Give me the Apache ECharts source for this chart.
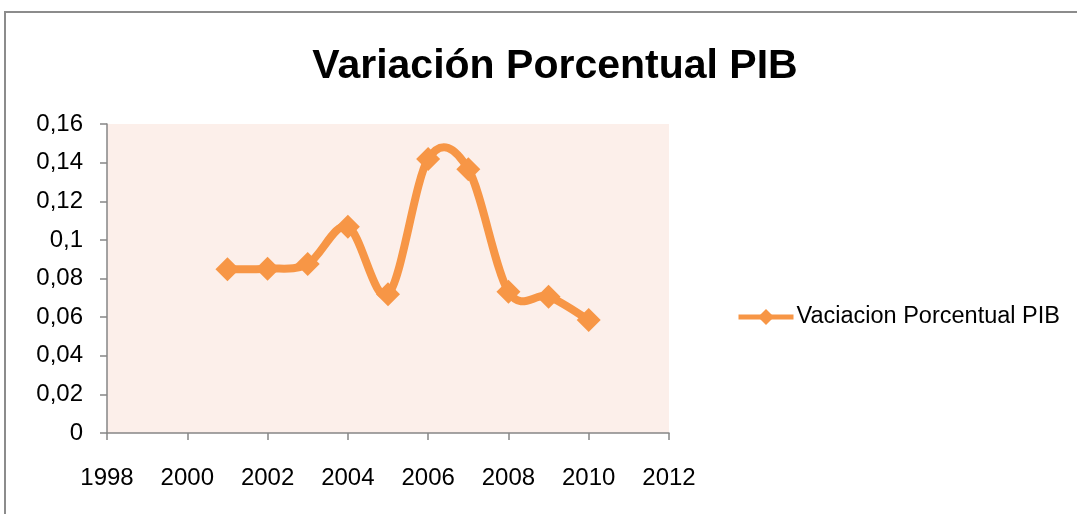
<!DOCTYPE html>
<html>
<head>
<meta charset="utf-8">
<script src="https://cdn.jsdelivr.net/npm/echarts@6/dist/echarts.min.js"></script>
<style>
  html, body { margin: 0; padding: 0; background: #fff; }
  #chart { width: 1077px; height: 514px; }
</style>
</head>
<body>
<div id="chart"></div>
<script>
// anos y variacion porcentual del PIB
const years = [2001, 2002, 2003, 2004, 2005, 2006, 2007, 2008, 2009, 2010]
const pibVariation = [0.0848, 0.0851, 0.0875, 0.1068, 0.0718, 0.1419, 0.1366, 0.0732, 0.0706, 0.0585]
const seriesName = 'Vaciacion Porcentual PIB'
const chartTitle = 'Variación Porcentual PIB'

const font = 'Liberation Sans'
const axisColor = '#868686'
const orange = '#f79646'

const points = years.map((y, i) => [y, pibVariation[i]])

// curva suave tipo Excel (Catmull-Rom -> bezier), segmento i .. i+1
function renderSegment (params, api) {
  const i = params.dataIndex
  if (i >= points.length - 1) return null
  const c = j => api.coord(points[Math.max(0, Math.min(points.length - 1, j))])
  const p0 = c(i - 1)
  const p1 = c(i)
  const p2 = c(i + 1)
  const p3 = c(i + 2)
  return {
    type: 'bezierCurve',
    shape: {
      x1: p1[0],
      y1: p1[1],
      cpx1: p1[0] + (p2[0] - p0[0]) / 6,
      cpy1: p1[1] + (p2[1] - p0[1]) / 6,
      cpx2: p2[0] - (p3[0] - p1[0]) / 6,
      cpy2: p2[1] - (p3[1] - p1[1]) / 6,
      x2: p2[0],
      y2: p2[1]
    },
    style: {
      fill: null,
      stroke: orange,
      lineWidth: 8,
      lineCap: 'round'
    }
  }
}

const chart = echarts.init(document.getElementById('chart'))
chart.setOption({
  backgroundColor: '#fff',
  animation: false,
  textStyle: {
    fontFamily: font
  },
  title: {
    text: chartTitle,
    left: 550,
    textAlign: 'center',
    top: 41,
    textStyle: {
      fontFamily: font,
      fontSize: 41,
      fontWeight: 'bold',
      color: '#000'
    }
  },
  graphic: [{
    type: 'rect',
    shape: { x: 5, y: 12, width: 1100, height: 540 },
    style: { fill: null, stroke: '#8c8c8c', lineWidth: 2 },
    silent: true
  }],
  legend: {
    data: [seriesName],
    left: 731,
    top: 300,
    itemWidth: 55,
    itemHeight: 20,
    itemGap: 4,
    lineStyle: { width: 5, opacity: 1, color: orange },
    textStyle: {
      fontFamily: font,
      fontSize: 23.5,
      color: '#000',
      padding: [0, 0, 0, -2]
    }
  },
  grid: {
    left: 107,
    right: 408,
    top: 124,
    bottom: 81,
    show: true,
    backgroundColor: '#fcefea',
    borderWidth: 0
  },
  xAxis: {
    type: 'value',
    min: 1998,
    max: 2012,
    interval: 2,
    axisLine: { show: true, lineStyle: { color: axisColor, width: 1.5 } },
    axisTick: { show: true, inside: false, length: 7, lineStyle: { color: axisColor, width: 1.5 } },
    axisLabel: {
      color: '#000',
      fontSize: 24,
      margin: 33,
      formatter: v => String(v)
    },
    splitLine: { show: false }
  },
  yAxis: {
    type: 'value',
    min: 0,
    max: 0.16,
    interval: 0.02,
    axisLine: { show: true, lineStyle: { color: axisColor, width: 1.5 } },
    axisTick: { show: true, inside: false, length: 7, lineStyle: { color: axisColor, width: 1.5 } },
    axisLabel: {
      color: '#000',
      fontSize: 24,
      margin: 24,
      formatter: v => String(+v.toFixed(2)).replace('.', ',')
    },
    splitLine: { show: false }
  },
  series: [{
    type: 'custom',
    name: 'curva',
    renderItem: renderSegment,
    data: points,
    z: 1,
    silent: true
  }, {
    name: seriesName,
    type: 'line',
    symbol: 'diamond',
    symbolSize: 24,
    data: points,
    lineStyle: { color: orange, width: 0, opacity: 0 },
    itemStyle: { color: orange },
    z: 2
  }]
})
</script>
</body>
</html>
